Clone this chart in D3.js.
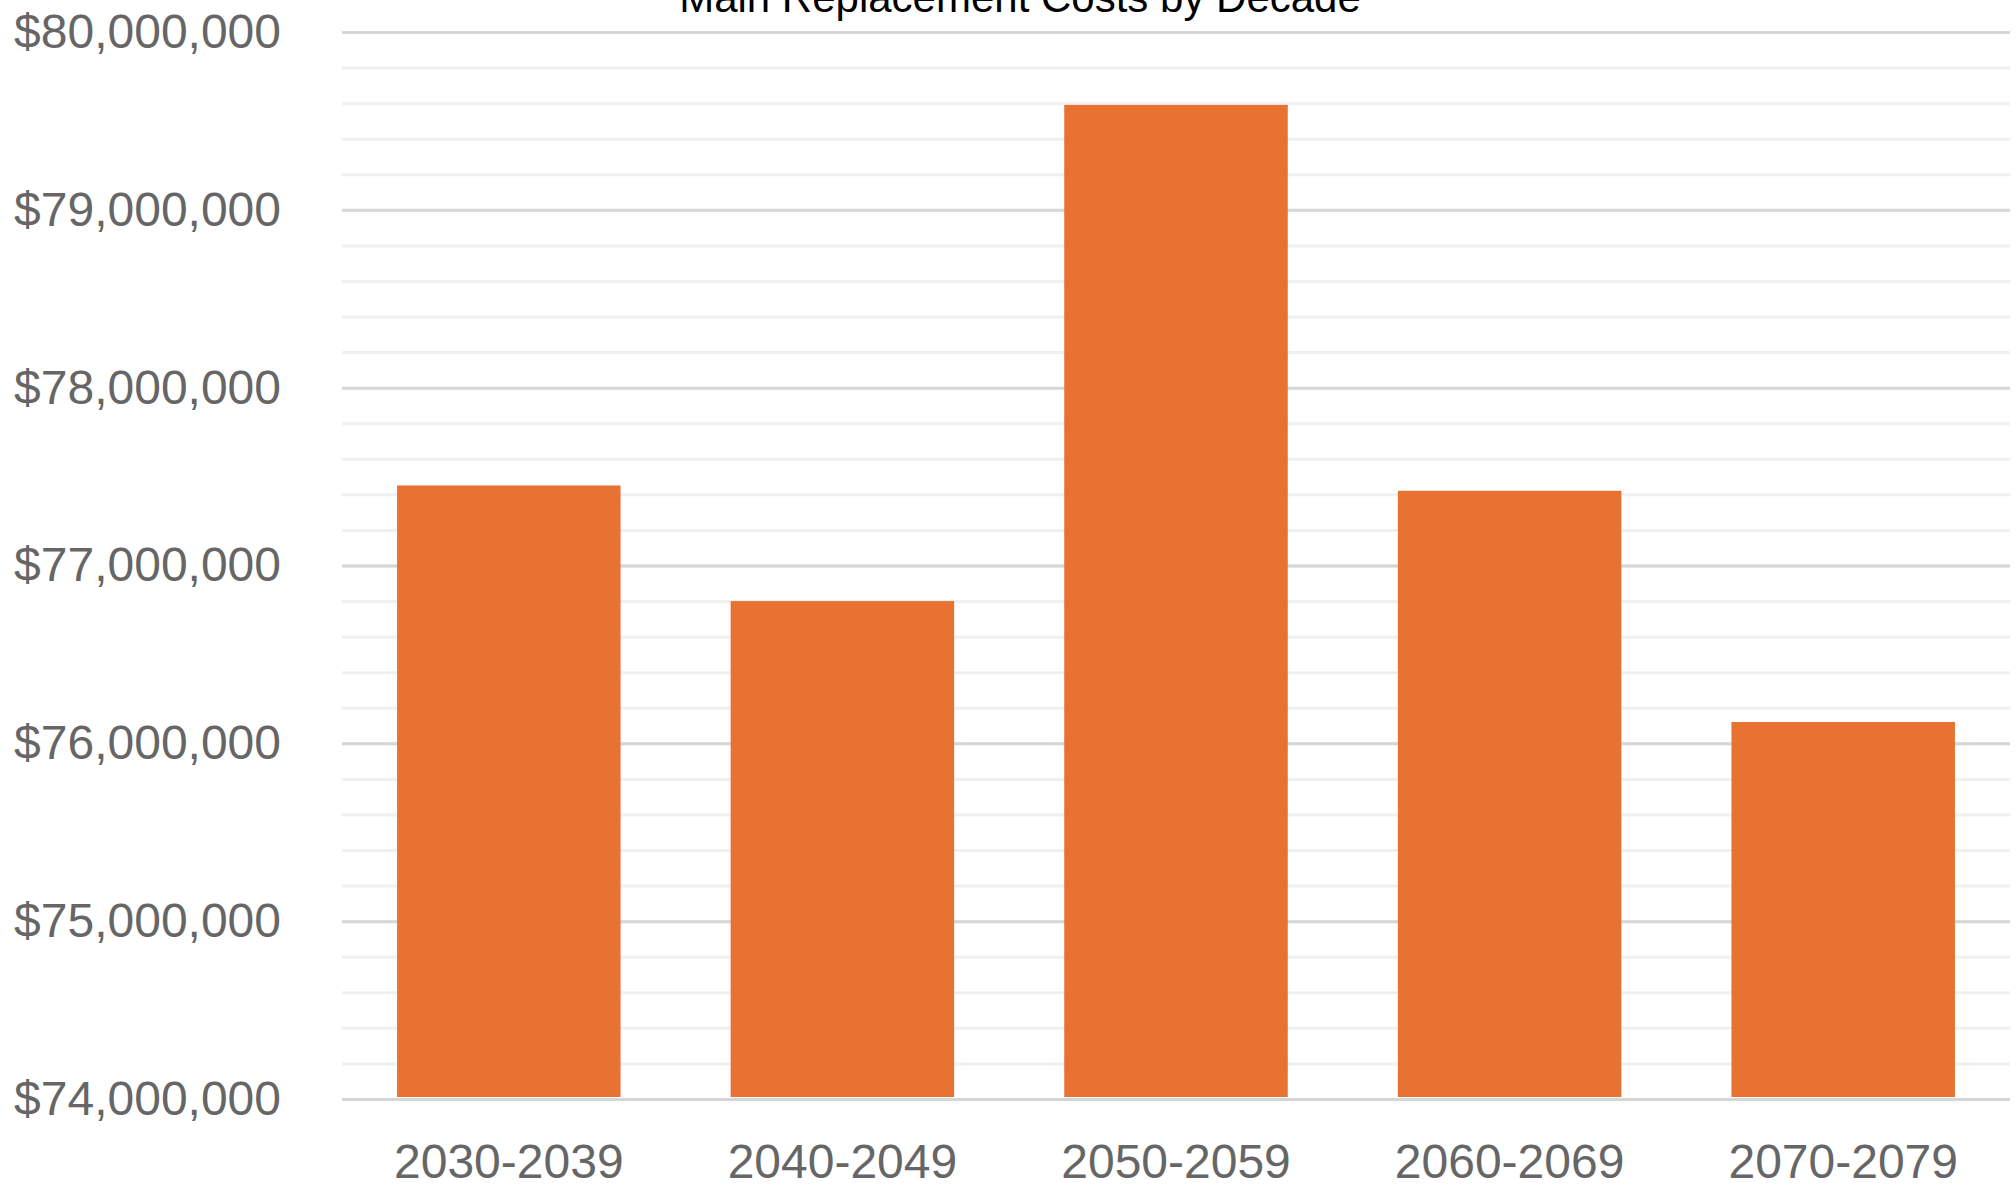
<!DOCTYPE html>
<html>
<head>
<meta charset="utf-8">
<script src="https://cdn.jsdelivr.net/npm/d3@7"></script>
<style>
  body { margin: 0; background: #fff; }
  svg { display: block; font-family: "Liberation Sans", Arial, sans-serif; }
  .grid line { stroke-width: 3; }
  .grid .domain { display: none; }
  .ylab text { fill: #666; font-size: 48px; }
  .xlab text { fill: #666; font-size: 48px; }
</style>
</head>
<body>
<svg class="mainsvg" width="2016" height="1190"></svg>
<script>
var decades = ["2030-2039", "2040-2049", "2050-2059", "2060-2069", "2070-2079"];
var costs = [77450000, 76800000, 79590000, 77420000, 76120000];
var majorTicks = [74000000, 75000000, 76000000, 77000000, 78000000, 79000000, 80000000];
var minorTicks = d3.range(74000000, 80000001, 200000);
var chartTitle = "Main Replacement Costs by Decade";

var width = 2016, height = 1190;
var margin = {top: 32, right: 6, bottom: 91, left: 342};

var svg = d3.select(".mainsvg");

var x = d3.scaleBand()
    .domain(decades)
    .range([margin.left, width - margin.right])
    .paddingInner(0.33)
    .paddingOuter(0.165);

var y = d3.scaleLinear()
    .domain([74000000, 80000000])
    .range([height - margin.bottom, margin.top]);

// minor grid lines
svg.append("g")
    .attr("class", "grid")
    .attr("transform", "translate(" + margin.left + ",0)")
    .call(d3.axisLeft(y).tickValues(minorTicks)
        .tickSize(-(width - margin.left - margin.right)).tickFormat(""))
    .selectAll("line").attr("stroke", "#f0f0f0");

// major grid lines
svg.append("g")
    .attr("class", "grid")
    .attr("transform", "translate(" + margin.left + ",0)")
    .call(d3.axisLeft(y).tickValues(majorTicks)
        .tickSize(-(width - margin.left - margin.right)).tickFormat(""))
    .selectAll("line").attr("stroke", "#d6d6d6");

// bars
svg.selectAll(".bar")
    .data(costs)
    .enter().append("rect")
    .attr("class", "bar")
    .attr("x", function (d, i) { return x(decades[i]); })
    .attr("y", function (d) { return y(d); })
    .attr("width", x.bandwidth())
    .attr("height", function (d) { return y(74000000) - y(d) - 2; })
    .attr("fill", "#e87232");

// y labels
var ylab = svg.append("g")
    .attr("class", "ylab")
    .attr("transform", "translate(281,0)")
    .call(d3.axisLeft(y).tickValues(majorTicks).tickSize(0).tickPadding(0)
        .tickFormat(d3.format("$,.0f")));
ylab.select(".domain").remove();

// x labels
var xlab = svg.append("g")
    .attr("class", "xlab")
    .attr("transform", "translate(0," + (height - margin.bottom) + ")")
    .call(d3.axisBottom(x).tickSize(0).tickPadding(79));
xlab.select(".domain").remove();
xlab.selectAll("text").attr("dy", "0");

// title
svg.append("text")
    .attr("x", 1020)
    .attr("y", 12)
    .attr("text-anchor", "middle")
    .attr("font-size", 42)
    .attr("fill", "#000")
    .text(chartTitle);
</script>
</body>
</html>
